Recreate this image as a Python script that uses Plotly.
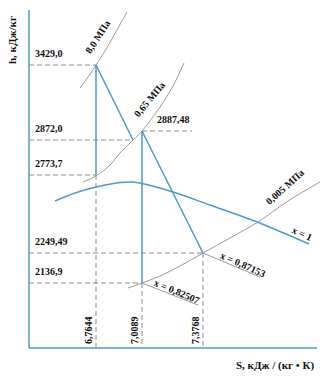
import plotly.graph_objects as go

# ---- schematic h-s diagram (diagram units; y grows downward) ----
h_labels = ["3429,0", "2872,0", "2773,7", "2249,49", "2136,9"]
h_pos = [65, 140, 175, 253, 283]
s_labels = ["6,7644", "7,0089", "7,3768"]
s_pos = [96, 142, 203]
h3_label = "2887,48"

# state points (s-position, h-position)
P1 = (96, 65)     # 8 MPa, 3429,0
P2 = (133, 140)   # 0.65 MPa actual, 2872,0
P2s = (96, 175)   # 2773,7
P3 = (142, 131)   # 2887,48
P4 = (203, 253)   # x = 0,87153, 2249,49
P4s = (142, 283)  # x = 0,82507, 2136,9

# saturation curve x = 1
sat_s = [55, 75, 96, 120, 133, 142, 173, 210, 257, 309]
sat_h = [201, 193, 187, 182.5, 182, 183.5, 192, 205, 222, 244]
# isobars
iso8_s = [80, 88, 96, 108, 118, 127]
iso8_h = [88, 77, 65, 46, 28, 12]
iso065_s = [83, 96, 110, 120, 133, 142, 160, 173, 184]
iso065_h = [182, 176, 165, 153, 140, 131, 107, 86, 63]
iso0005_s = [128, 142, 160, 180, 203, 230, 258, 288, 320]
iso0005_h = [288, 283, 276, 266, 253, 238, 222, 201, 182]

BLUE = "#4a9bc8"
GRAY = "#9a9a9a"
DASH = "#8c8c8c"
AX0, AXY_TOP, AXY_BOT, AX_RIGHT = 29, 10, 348, 317

fig = go.Figure()

def line(xs, ys, color, width=1.2, dash="solid", shape="linear"):
    fig.add_trace(go.Scatter(x=xs, y=ys, mode="lines", hoverinfo="skip",
                             line=dict(color=color, width=width, dash=dash, shape=shape)))

# axes lines
line([AX0, AX0], [AXY_TOP, AXY_BOT], BLUE, 1.5)
line([AX0, AX_RIGHT], [AXY_BOT, AXY_BOT], BLUE, 1.5)

# dashed helper lines
DP = "5px,3px"
dash_h = [(P1[1], P1[0]), (P2[1], P2[0]), (P2s[1], P2s[0]), (P4[1], P4[0]), (P4s[1], P4s[0])]
for y, xe in dash_h:
    line([AX0, xe], [y, y], DASH, 1, DP)
line([P3[0], 192], [P3[1], P3[1]], DASH, 1, DP)
for x, ys in [(P2s[0], P2s[1]), (P4s[0], P4s[1]), (P4[0], P4[1])]:
    line([x, x], [ys, AXY_BOT], DASH, 1, DP)

# isobars
line(iso8_s, iso8_h, GRAY, 1, shape="spline")
line(iso065_s, iso065_h, GRAY, 1, shape="spline")
line(iso0005_s, iso0005_h, GRAY, 1, shape="spline")
# leaders
line([P4[0], 260], [P4[1], 277], GRAY, 1)
line([P4s[0], 198], [P4s[1], 305], GRAY, 1)

# process lines
line([P1[0], P2s[0]], [P1[1], P2s[1]], BLUE, 1.5)
line([P1[0], P2[0]], [P1[1], P2[1]], BLUE, 1.5)
line([P3[0], P4s[0]], [P3[1], P4s[1]], BLUE, 1.5)
line([P3[0], P4[0]], [P3[1], P4[1]], BLUE, 1.5)
line(sat_s, sat_h, BLUE, 1.5, shape="spline")

FONT = dict(family="Liberation Serif", size=10, color="#111")
SMALL = dict(family="Liberation Serif", size=10, color="#111")
TITLE = dict(family="Liberation Serif", size=11, color="#111")
ann = []
for lab, y in zip(h_labels, h_pos):
    ann.append(dict(x=33, y=y - 4, text="<b>%s</b>" % lab, xanchor="left", yanchor="bottom"))
ann.append(dict(x=155, y=P3[1] - 4, text="<b>%s</b>" % h3_label, xanchor="left", yanchor="bottom"))
for lab, x in zip(s_labels, s_pos):
    ann.append(dict(x=x - 8, y=330, text="<b>%s</b>" % lab, textangle=-90))
ann += [
    dict(x=97, y=37, text="<b>8,0 МПа</b>", textangle=-57, font=SMALL),
    dict(x=149, y=99, text="<b>0,65 МПа</b>", textangle=-50, font=SMALL),
    dict(x=284, y=187, text="<b>0,005 МПа</b>", textangle=-42, font=SMALL),
    dict(x=302, y=233, text="<b>x = 1</b>", textangle=25, font=SMALL),
    dict(x=243, y=264, text="<b>x = 0,87153</b>", textangle=24, font=SMALL),
    dict(x=177, y=291, text="<b>x = 0,82507</b>", textangle=23, font=SMALL),
    dict(x=12, y=40, text="<b>h, кДж/кг</b>", textangle=-90, font=TITLE),
    dict(x=275, y=365, text="<b>S, кДж / (кг • К)</b>", font=TITLE),
]
for a in ann:
    a.setdefault("font", FONT)
    a.update(showarrow=False, xref="x", yref="y")

fig.update_layout(
    width=332, height=376, margin=dict(l=0, r=0, t=0, b=0),
    paper_bgcolor="white", plot_bgcolor="white", showlegend=False,
    xaxis=dict(range=[0, 332], visible=False, fixedrange=True),
    yaxis=dict(range=[376, 0], visible=False, fixedrange=True),
    annotations=ann,
)
fig.write_html("out.html", config={"displayModeBar": False})
